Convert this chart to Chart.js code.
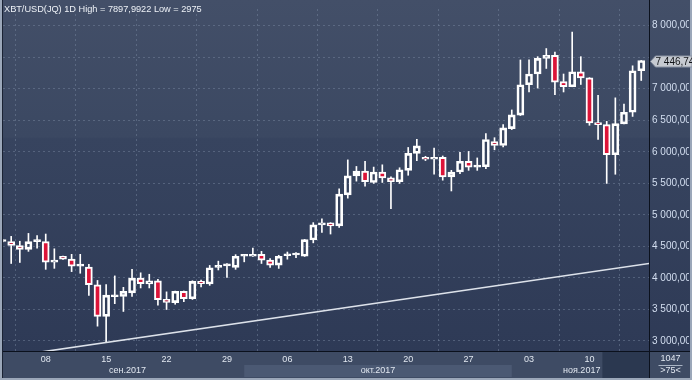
<!DOCTYPE html>
<html>
<head>
<meta charset="utf-8">
<script src="https://cdn.jsdelivr.net/npm/chart.js@4"></script>
<style>
  html, body { margin: 0; padding: 0; background: #2e3a56; }
  #caja { width: 692px; height: 380px; }
</style>
</head>
<body>
<div id="caja"><canvas id="grafico" width="692" height="380"></canvas></div>
<script>
// dias (dd.mm), 1D velas XBT/USD
const fechas = [
  '03.09','04.09','05.09','06.09','07.09','08.09','09.09','10.09','11.09','12.09',
  '13.09','14.09','15.09','16.09','17.09','18.09','19.09','20.09','21.09','22.09',
  '23.09','24.09','25.09','26.09','27.09','28.09','29.09','30.09',
  '01.10','02.10','03.10','04.10','05.10','06.10','07.10','08.10','09.10','10.10',
  '11.10','12.10','13.10','14.10','15.10','16.10','17.10','18.10','19.10','20.10',
  '21.10','22.10','23.10','24.10','25.10','26.10','27.10','28.10','29.10','30.10','31.10',
  '01.11','02.11','03.11','04.11','05.11','06.11','07.11','08.11','09.11','10.11',
  '11.11','12.11','13.11','14.11','15.11','16.11'
];

const apertura = [
  4576, 4575, 4513, 4451, 4575, 4575, 4249, 4342, 4296, 4187,
  4171, 3891, 3389, 3700, 3705, 3762, 3995, 3902, 3954, 3658,
  3607, 3788, 3669, 3943, 3902, 4166, 4190, 4166,
  4342, 4342, 4373, 4280, 4202, 4350, 4362, 4342, 4601, 4840,
  4871, 4824, 5316, 5617, 5694, 5513, 5679, 5586, 5524, 5705,
  5974, 5912, 5881, 5912, 5601, 5679, 5850, 5757, 5762, 6161, 6099,
  6368, 6580, 7062, 7233, 7482, 7529, 7114, 7031, 7269, 7171,
  6456, 6430, 5953, 6441, 6627, 7285
];
const maximo = [
  4600, 4658, 4581, 4705, 4669, 4695, 4461, 4345, 4373, 4373,
  4213, 3959, 3895, 4031, 3850, 4135, 4080, 4057, 3975, 3778,
  3790, 3792, 3954, 3964, 4197, 4265, 4226, 4368,
  4358, 4472, 4420, 4306, 4358, 4410, 4399, 4610, 4876, 4938,
  4875, 5410, 5871, 5767, 5850, 5757, 5793, 5601, 5746, 6068,
  6197, 5928, 6057, 5933, 5705, 5990, 6005, 5902, 6288, 6223, 6430,
  6663, 7456, 7456, 7508, 7637, 7580, 7233, 7898, 7508, 7175,
  6896, 6482, 6855, 6757, 7363, 7450
];
const minimo = [
  4570, 4228, 4244, 4420, 4472, 4135, 4151, 4293, 4099, 4073,
  3721, 3234, 2975, 3591, 3467, 3705, 3840, 3840, 3565, 3498,
  3581, 3622, 3658, 3855, 3881, 4125, 4005, 4135,
  4254, 4340, 4228, 4166, 4150, 4296, 4321, 4340, 4555, 4720,
  4695, 4800, 5264, 5534, 5456, 5498, 5513, 5099, 5498, 5627,
  5860, 5860, 5643, 5549, 5378, 5653, 5705, 5705, 5731, 6031, 6078,
  6352, 6575, 6948, 7010, 7321, 6907, 6948, 7031, 7067, 6420,
  6197, 5498, 5643, 6441, 6560, 7130
];
const cierre = [
  4591, 4513, 4451, 4575, 4580, 4249, 4280, 4296, 4187, 4192,
  3891, 3389, 3726, 3710, 3788, 3995, 3907, 3954, 3653, 3612,
  3788, 3669, 3943, 3907, 4161, 4176, 4198, 4342,
  4350, 4373, 4280, 4202, 4342, 4362, 4370, 4606, 4840, 4871,
  4824, 5327, 5617, 5694, 5524, 5679, 5586, 5524, 5715, 5974,
  6093, 5881, 5912, 5601, 5679, 5850, 5757, 5762, 6195, 6099, 6378,
  6586, 7062, 7233, 7482, 7529, 7104, 7031, 7269, 7171, 6456,
  6430, 5953, 6446, 6627, 7285, 7446.745
];

// linea de tendencia (indice de dia, valor)
const tendenciaDia = [0, 75];
const tendenciaValor = [2736, 4230];

const etiquetasDias = ['08.09','15.09','22.09','29.09','06.10','13.10','20.10','27.10','03.11','10.11'];
const meses = ['сен.2017', 'окт.2017', 'ноя.2017'];
const inicioMes = ['01.10', '01.11'];
const nivelesY = [3000, 3500, 4000, 4500, 5000, 5500, 6000, 6500, 7000, 7500, 8000];

const titulo = 'XBT/USD(JQ) 1D High = 7897,9922 Low = 2975';
const contador = '1047';

const ROJO = '#dc1438';
const BLANCO = '#ffffff';

function formatoNumero(v, dec) {
  const partes = v.toFixed(dec).split('.');
  const entero = partes[0].replace(/\B(?=(\d{3})+(?!\d))/g, ' ');
  return entero + ',' + (partes[1] || '000');
}

const mechaSup = fechas.map((f, i) => ({ x: i, y: [Math.max(apertura[i], cierre[i]), maximo[i]] }));
const mechaInf = fechas.map((f, i) => ({ x: i, y: [minimo[i], Math.min(apertura[i], cierre[i])] }));
const cuerpos = fechas.map((f, i) => ({ x: i, y: [apertura[i], cierre[i]] }));
const colorCuerpo = fechas.map((f, i) => cierre[i] < apertura[i] ? ROJO : 'rgba(0,0,0,0)');
const tendencia = tendenciaDia.map((d, i) => ({ x: d, y: tendenciaValor[i] }));

const decorado = {
  id: 'decorado',
  beforeDraw(chart) {
    const { ctx, chartArea: a, scales: { x } } = chart;
    const W = chart.width, H = chart.height;
    ctx.save();
    const g = ctx.createLinearGradient(0, 0, 0, a.bottom);
    g.addColorStop(0, '#434f68');
    g.addColorStop(0.39, '#3b4862');
    g.addColorStop(0.395, '#37445f');
    g.addColorStop(1, '#2e3a56');
    ctx.fillStyle = g;
    ctx.fillRect(0, 0, W, a.bottom);

    // zona del eje x
    ctx.fillStyle = '#3e4b64';
    ctx.fillRect(0, a.bottom, W, H - a.bottom);
    const oct = x.getPixelForValue(fechas.indexOf(inicioMes[0]));
    const nov = x.getPixelForValue(fechas.indexOf(inicioMes[1]));
    ctx.fillStyle = '#4b5973';
    ctx.fillRect(oct, a.bottom + 14, nov - oct, H - a.bottom - 17);
    const osc = x.getPixelForValue(fechas.indexOf('11.11') + 0.5);
    ctx.fillStyle = '#2b3850';
    ctx.fillRect(osc, a.bottom + 1, a.right - osc, H - a.bottom - 3);
    ctx.restore();
  },
  afterDraw(chart) {
    const { ctx, chartArea: a, scales: { x, y } } = chart;
    const W = chart.width, H = chart.height;
    ctx.save();

    // lineas negras
    ctx.strokeStyle = '#0b111d';
    ctx.lineWidth = 1;
    ctx.beginPath();
    ctx.moveTo(a.right + 0.5, 0);
    ctx.lineTo(a.right + 0.5, H - 2);
    ctx.moveTo(2, a.bottom + 0.5);
    ctx.lineTo(W, a.bottom + 0.5);
    ctx.stroke();

    // marco
    ctx.fillStyle = '#9ba7b9';
    ctx.fillRect(0, 0, 2, H);
    ctx.fillRect(0, H - 2, W, 2);
    ctx.fillRect(W - 2, 0, 2, H);
    ctx.fillStyle = '#1a2233';
    ctx.fillRect(2, 0, 1, H - 2);

    // etiquetas de dias
    ctx.font = '9px "Liberation Sans", Arial, sans-serif';
    ctx.fillStyle = '#e1e7f0';
    ctx.textAlign = 'center';
    ctx.textBaseline = 'middle';
    etiquetasDias.forEach(f => {
      ctx.fillText(f.slice(0, 2), x.getPixelForValue(fechas.indexOf(f)), a.bottom + 9);
    });

    // meses
    const oct = x.getPixelForValue(fechas.indexOf(inicioMes[0]));
    const nov = x.getPixelForValue(fechas.indexOf(inicioMes[1]));
    const osc = x.getPixelForValue(fechas.indexOf('11.11') + 0.5);
    ctx.fillText(meses[0], (a.left + oct) / 2 + 4, a.bottom + 20);
    ctx.fillText(meses[1], (oct + nov) / 2, a.bottom + 20);
    ctx.textAlign = 'right';
    ctx.fillText(meses[2], osc - 2, a.bottom + 20);

    // esquina
    const cx = (a.right + W - 2) / 2 + 1;
    ctx.textAlign = 'center';
    ctx.fillText(contador, cx, a.bottom + 8);
    ctx.fillText('>' + fechas.length + '<', cx, a.bottom + 20);
    ctx.strokeStyle = '#a9b4c4';
    ctx.beginPath();
    ctx.moveTo(cx - 12, a.bottom + 14.5);
    ctx.lineTo(cx + 12, a.bottom + 14.5);
    ctx.stroke();

    // ultimo precio
    const ultimo = cierre[cierre.length - 1];
    const py = Math.round(y.getPixelForValue(ultimo)) + 0.5;
    const px = a.right + 1.5;
    ctx.beginPath();
    ctx.moveTo(px, py);
    ctx.lineTo(px + 5, py - 5.5);
    ctx.lineTo(W, py - 5.5);
    ctx.lineTo(W, py + 5.5);
    ctx.lineTo(px + 5, py + 5.5);
    ctx.closePath();
    ctx.fillStyle = '#c6cad1';
    ctx.fill();
    ctx.strokeStyle = '#8a93a3';
    ctx.stroke();
    ctx.fillStyle = '#111418';
    ctx.textAlign = 'left';
    ctx.font = '10px "Liberation Sans", Arial, sans-serif';
    ctx.fillText(formatoNumero(ultimo, 3), px + 5, py + 0.5);

    // titulo
    ctx.fillStyle = '#eef2f7';
    ctx.font = '9.2px "Liberation Sans", Arial, sans-serif';
    ctx.fillText(titulo, 4, 9);
    ctx.restore();
  }
};

const ctx = document.getElementById('grafico').getContext('2d');

new Chart(ctx, {
  type: 'bar',
  data: {
    datasets: [
      {
        type: 'line',
        data: tendencia,
        borderColor: '#dde2ea',
        borderWidth: 1.6,
        pointRadius: 0,
        tension: 0,
        clip: 0,
        order: 1
      },
      {
        data: cuerpos,
        backgroundColor: colorCuerpo,
        borderColor: BLANCO,
        borderWidth: 2,
        borderSkipped: false,
        barThickness: 7,
        minBarLength: 2,
        grouped: false,
        clip: 0,
        order: 2
      },
      {
        data: mechaSup,
        backgroundColor: BLANCO,
        borderWidth: 0,
        barThickness: 1,
        grouped: false,
        clip: 0,
        order: 3
      },
      {
        data: mechaInf,
        backgroundColor: BLANCO,
        borderWidth: 0,
        barThickness: 1,
        grouped: false,
        clip: 0,
        order: 3
      }
    ]
  },
  options: {
    responsive: false,
    animation: false,
    layout: { padding: { left: 3, top: 2, right: 3, bottom: 3 } },
    plugins: {
      legend: { display: false },
      tooltip: { enabled: false }
    },
    scales: {
      x: {
        type: 'linear',
        bounds: 'data',
        offset: false,
        min: 0.05,
        max: 74.9,
        afterBuildTicks: scale => {
          scale.ticks = etiquetasDias.map(f => ({ value: fechas.indexOf(f) }));
        },
        afterFit: scale => { scale.height = 26; },
        ticks: { display: false },
        grid: { color: 'rgba(125,140,165,0.45)', lineWidth: 1, drawTicks: false },
        border: { display: false, dash: [2, 3] }
      },
      y: {
        position: 'right',
        bounds: 'data',
        min: 2840,
        max: 8264,
        afterBuildTicks: scale => {
          scale.ticks = nivelesY.map(v => ({ value: v }));
        },
        afterFit: scale => { scale.width = 40; },
        ticks: {
          padding: 3,
          color: '#d3def0',
          font: { family: '"Liberation Sans", Arial, sans-serif', size: 10 },
          callback: v => v === 7500 ? '' : formatoNumero(v, 0).replace(/,.*$/, ',000')
        },
        grid: { color: 'rgba(125,140,165,0.45)', lineWidth: 1, drawTicks: false },
        border: { display: false, dash: [2, 3] }
      }
    }
  },
  plugins: [decorado]
});
</script>
</body>
</html>
